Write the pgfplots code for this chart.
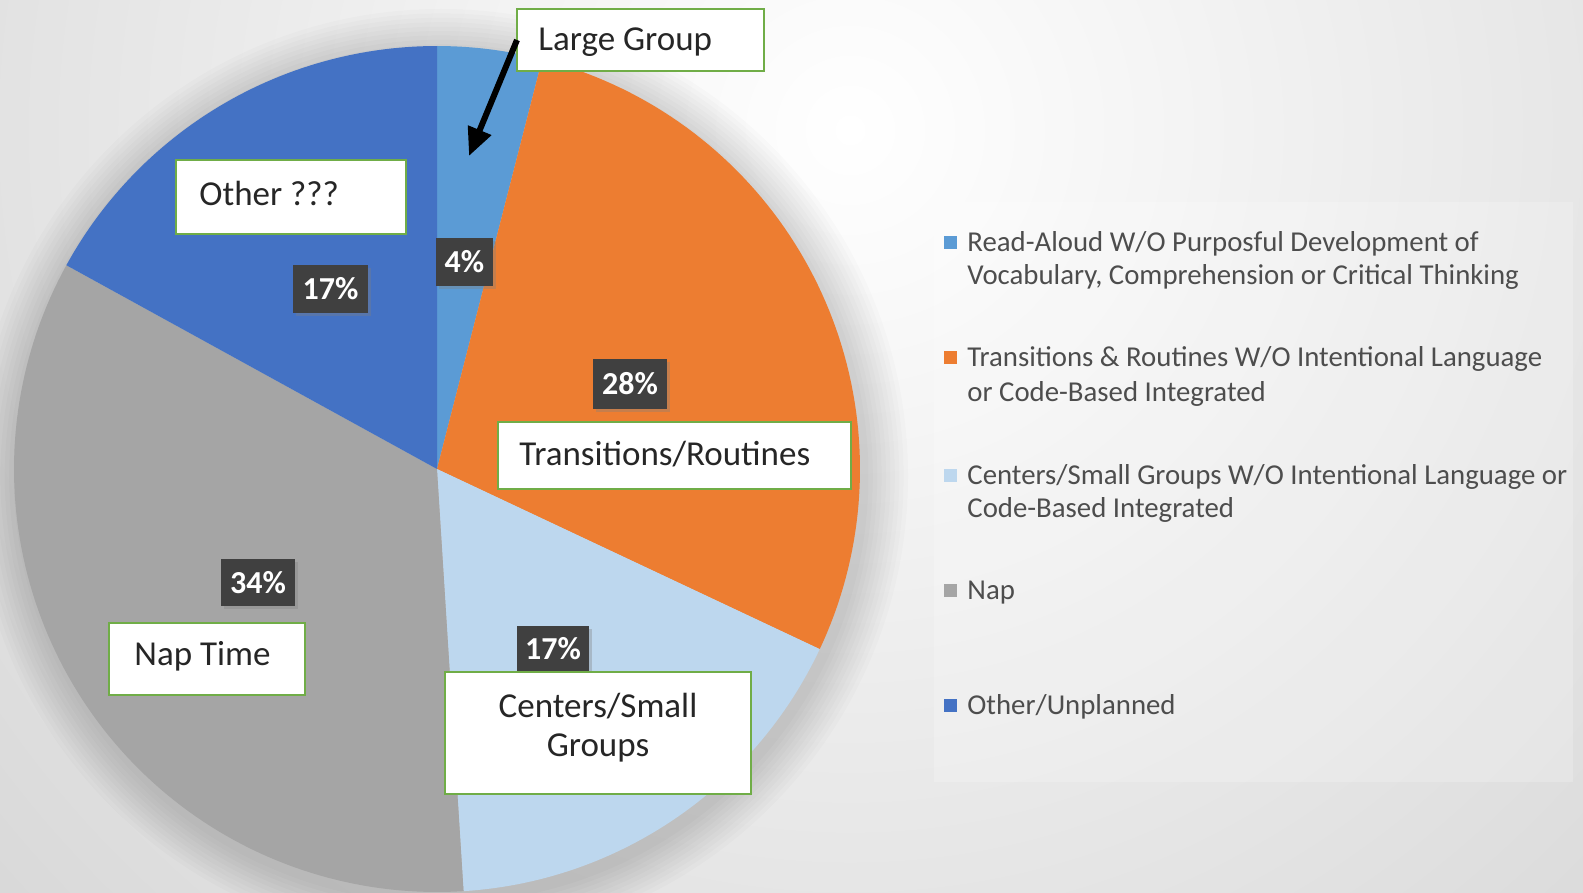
\documentclass[border=0pt]{standalone}
\usepackage{pgfplots}
\pgfplotsset{compat=1.18}
\usepackage{fontspec}
\setmainfont{Carlito}
\usetikzlibrary{shadows,arrows.meta}

\definecolor{cLarge}{HTML}{5B9BD5}
\definecolor{cTrans}{HTML}{ED7D31}
\definecolor{cCent}{HTML}{BDD7EE}
\definecolor{cNap}{HTML}{A5A5A5}
\definecolor{cOther}{HTML}{4472C4}
\definecolor{cGreen}{HTML}{70AD47}
\definecolor{cLab}{HTML}{404040}
\definecolor{cLeg}{HTML}{4D4D4D}
\definecolor{cTxt}{HTML}{262626}

% slice values (percent), clockwise from the top
\def\vLarge{4}\def\vTrans{28}\def\vCent{17}\def\vNap{34}\def\vOther{17}%
\pgfmathsetmacro\aA{0}%
\pgfmathsetmacro\aB{3.6*\vLarge}%
\pgfmathsetmacro\aC{\aB+3.6*\vTrans}%
\pgfmathsetmacro\aD{\aC+3.6*\vCent}%
\pgfmathsetmacro\aE{\aD+3.6*\vNap}%
\pgfmathsetmacro\aF{\aE+3.6*\vOther}%

\begin{document}
\begin{tikzpicture}
\begin{axis}[hide axis, scale only axis, width=791.5pt, height=446.5pt,
  xmin=0, xmax=1583, ymin=0, ymax=893, y dir=reverse, clip=false]
\coordinate (BL) at (axis cs:0,893);
\coordinate (TR) at (axis cs:1583,0);
% background
\begin{scope}
\clip (axis cs:0,0) rectangle (axis cs:1583,893);
\fill[black!20] (axis cs:0,0) rectangle (axis cs:1583,893);
\shade[overlay, inner color=white, outer color=black!21] (axis cs:850,130) circle (800pt);
% pie shadow
\pgfplotsinvokeforeach{1,...,10}{
  \fill[overlay, black, opacity=0.016] (axis cs:441,476) circle (211.5pt+#1*2.2pt);
}
\end{scope}
% slices
\addplot[fill=cLarge, draw=none, domain=\aA:\aB, samples=20] ({437+423*sin(x)},{469-423*cos(x)}) -- (axis cs:437,469) -- cycle;
\addplot[fill=cTrans, draw=none, domain=\aB:\aC, samples=80] ({437+423*sin(x)},{469-423*cos(x)}) -- (axis cs:437,469) -- cycle;
\addplot[fill=cCent, draw=none, domain=\aC:\aD, samples=60] ({437+423*sin(x)},{469-423*cos(x)}) -- (axis cs:437,469) -- cycle;
\addplot[fill=cNap, draw=none, domain=\aD:\aE, samples=100] ({437+423*sin(x)},{469-423*cos(x)}) -- (axis cs:437,469) -- cycle;
\addplot[fill=cOther, draw=none, domain=\aE:\aF, samples=60] ({437+423*sin(x)},{469-423*cos(x)}) -- (axis cs:437,469) -- cycle;

% data labels
\tikzset{dlab/.style={fill=cLab, text=white, font=\fontsize{16}{18}\selectfont\bfseries, inner sep=0pt,
  drop shadow={opacity=0.35, shadow xshift=1.5pt, shadow yshift=-1.5pt}}}
\node[dlab, minimum width=28.5pt, minimum height=24pt] at (axis cs:464.5,262) {4\%};
\node[dlab, minimum width=37.5pt, minimum height=24pt] at (axis cs:330.5,289) {17\%};
\node[dlab, minimum width=37pt, minimum height=25pt] at (axis cs:630,384) {28\%};
\node[dlab, minimum width=37pt, minimum height=23.5pt] at (axis cs:258,582.5) {34\%};
\node[dlab, minimum width=36pt, minimum height=23pt] at (axis cs:553,649) {17\%};

% callouts
\tikzset{cbox/.style={draw=cGreen, line width=1pt, fill=white}}
\tikzset{ctxt/.style={text=cTxt, font=\fontsize{17.5}{21}\selectfont, inner sep=0pt}}
\draw[cbox] (axis cs:517,9) rectangle (axis cs:764,71);
\node[ctxt, anchor=west] at (axis cs:538,42) {Large Group};
\draw[cbox] (axis cs:176,160) rectangle (axis cs:406,234);
\node[ctxt, anchor=west] at (axis cs:199,193) {Other ???};
\draw[cbox] (axis cs:498,422) rectangle (axis cs:851,489);
\node[ctxt, anchor=west] at (axis cs:519,454) {Transitions/Routines};
\draw[cbox] (axis cs:109,623) rectangle (axis cs:305,695);
\node[ctxt, anchor=west] at (axis cs:134,656) {Nap Time};
\draw[cbox] (axis cs:445,672) rectangle (axis cs:751,794);
\node[ctxt] at (axis cs:598,706) {Centers/Small};
\node[ctxt] at (axis cs:598,748) {Groups};

% arrow
\draw[line width=3pt, -{Triangle[length=14pt,width=12pt]}] (axis cs:517,40) -- (axis cs:469,156);

% legend
\fill[white, opacity=0.2] (axis cs:934,202) rectangle (axis cs:1573,782);
\tikzset{ltxt/.style={text=cLeg, font=\fontsize{14.4}{16.5}\selectfont, inner sep=0pt, anchor=base west}}
\fill[cLarge] (axis cs:944,236) rectangle (axis cs:957,249);
\node[ltxt] at (axis cs:967,251) {Read-Aloud W/O Purposful Development of};
\node[ltxt] at (axis cs:967,284) {Vocabulary, Comprehension or Critical Thinking};
\fill[cTrans] (axis cs:944,351) rectangle (axis cs:957,364);
\node[ltxt] at (axis cs:967,366) {Transitions \& Routines W/O Intentional Language};
\node[ltxt] at (axis cs:967,401) {or Code-Based Integrated};
\fill[cCent] (axis cs:944,469) rectangle (axis cs:957,482);
\node[ltxt] at (axis cs:967,484) {Centers/Small Groups W/O Intentional Language or};
\node[ltxt] at (axis cs:967,517) {Code-Based Integrated};
\fill[cNap] (axis cs:944,584) rectangle (axis cs:957,597);
\node[ltxt] at (axis cs:967,599) {Nap};
\fill[cOther] (axis cs:944,699) rectangle (axis cs:957,712);
\node[ltxt] at (axis cs:967,714) {Other/Unplanned};
\end{axis}
\pgfresetboundingbox
\path[use as bounding box] (BL) rectangle (TR);
\end{tikzpicture}
\end{document}
